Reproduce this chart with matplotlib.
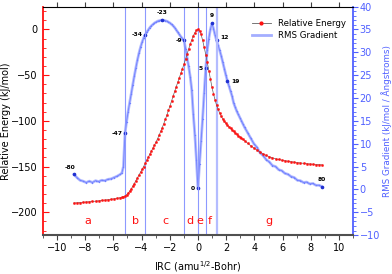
import matplotlib
matplotlib.use("Agg")
import matplotlib.pyplot as plt
from matplotlib.ticker import MultipleLocator
from matplotlib.lines import Line2D

# IRC coordinate (amu^1/2-Bohr)
irc = [-8.80, -8.58, -8.36, -8.14, -7.92, -7.70, -7.48, -7.26, -7.04, -6.82, -6.60, -6.38, -6.16, -5.94, -5.72, -5.50,
       -5.39, -5.28, -5.17, -5.06, -4.95, -4.84, -4.73, -4.62, -4.51, -4.40, -4.29, -4.18, -4.07, -3.96, -3.85, -3.74,
       -3.63, -3.52, -3.41, -3.30, -3.19, -3.08, -2.97, -2.86, -2.75, -2.64, -2.53, -2.42, -2.31, -2.20, -2.09, -1.98,
       -1.87, -1.76, -1.65, -1.54, -1.43, -1.32, -1.21, -1.10, -0.99, -0.88, -0.77, -0.66, -0.55, -0.44, -0.33, -0.22,
       -0.11, 0.00, 0.11, 0.22, 0.33, 0.44, 0.55, 0.66, 0.77, 0.88, 0.99, 1.10, 1.21, 1.32, 1.43, 1.54,
       1.65, 1.76, 1.87, 1.98, 2.09, 2.20, 2.31, 2.42, 2.53, 2.64, 2.75, 2.86, 2.97, 3.08, 3.19, 3.30,
       3.52, 3.74, 3.96, 4.18, 4.40, 4.62, 4.84, 5.06, 5.28, 5.50, 5.72, 5.94, 6.16, 6.38, 6.60, 6.82,
       7.04, 7.26, 7.48, 7.70, 7.92, 8.14, 8.36, 8.58, 8.80]

# Relative energy (kJ/mol)
energy = [-190.0, -189.7, -189.4, -189.1, -188.8, -188.5, -188.2, -187.9, -187.5, -187.1, -186.7, -186.3, -185.8, -185.3, -184.7, -184.0,
          -183.6, -183.1, -182.3, -181.0, -179.2, -177.0, -174.5, -171.6, -168.6, -165.5, -162.4, -159.3, -156.2, -153.1, -150.0, -146.6,
          -143.2, -139.8, -136.4, -133.1, -129.8, -126.5, -123.1, -119.5, -115.6, -111.6, -107.4, -103.0, -98.4, -93.6, -88.6, -83.5,
          -78.3, -73.0, -67.8, -62.7, -57.7, -52.8, -47.9, -43.0, -38.1, -32.5, -27.0, -21.5, -16.3, -11.4, -7.0, -3.6,
          -1.1, 0.0, -1.3, -5.5, -11.8, -19.5, -27.5, -36.0, -45.0, -54.0, -63.0, -70.5, -77.0, -83.0, -87.5, -91.5,
          -95.0, -98.0, -100.5, -102.8, -104.8, -106.6, -108.3, -110.0, -111.6, -113.2, -114.7, -116.2, -117.6, -119.0, -120.3, -121.6,
          -124.5, -127.2, -129.7, -132.0, -134.2, -136.2, -137.9, -139.3, -140.5, -141.5, -142.3, -143.0, -143.6, -144.2, -144.7, -145.2,
          -145.7, -146.1, -146.5, -146.9, -147.2, -147.5, -147.8, -148.0, -148.2]

# RMS gradient (kJ/mol / Angstroms)
rms = [3.3, 2.6, 2.0, 1.8, 1.5, 1.8, 1.5, 1.9, 1.7, 2.0, 1.9, 2.2, 2.3, 2.6, 2.9, 3.3,
       3.6, 5.0, 12.3, 14.8, 17.0, 19.0, 20.9, 22.9, 24.8, 26.6, 28.3, 29.8, 31.1, 32.2, 33.1, 33.8,
       34.4, 34.9, 35.4, 35.8, 36.1, 36.4, 36.6, 36.8, 36.9, 37.0, 37.0, 37.0, 36.9, 36.8, 36.6, 36.4,
       36.1, 35.8, 35.4, 34.9, 34.4, 33.9, 33.4, 33.0, 32.6, 30.8, 28.8, 26.9, 24.7, 21.8, 16.5, 12.0,
       6.5, 0.2, 5.5, 10.5, 15.5, 21.0, 26.5, 30.5, 33.0, 35.0, 36.3, 35.2, 33.8, 32.6, 31.5, 30.4,
       29.2, 27.8, 26.4, 25.0, 23.7, 22.6, 21.5, 20.4, 18.9, 18.0, 17.1, 16.4, 15.7, 15.0, 14.3, 13.6,
       12.4, 11.2, 10.0, 9.2, 8.0, 7.4, 6.5, 6.0, 5.2, 5.0, 4.3, 4.1, 3.5, 3.3, 2.8, 2.6,
       2.0, 1.9, 1.5, 1.6, 1.2, 1.3, 0.9, 0.9, 0.6]

# labelled IRC points (point index)
point_labels = ["-80", "-47", "-34", "-23", "-9", "0", "5", "9", "12", "19", "80"]
point_irc = [-8.80, -5.17, -3.74, -2.53, -0.99, 0.00, 0.55, 0.99, 1.32, 2.09, 8.80]
point_rms = [3.3, 12.3, 33.8, 37.0, 32.6, 0.2, 26.5, 36.3, 32.6, 23.7, 0.6]

# region boundaries and names
boundaries = [-5.17, -3.74, -0.99, 0.00, 0.55, 1.32]
region_names = ["a", "b", "c", "d", "e", "f", "g"]
region_x = [-7.8, -4.45, -2.3, -0.55, 0.15, 0.86, 5.05]

RED = "#ff1010"
BLUE = "#5060ff"
LBLUE = "#a4aeff"

fig = plt.figure(figsize=(3.92, 2.74), dpi=100)
ax = fig.add_axes([0.109, 0.142, 0.792, 0.834])
ax2 = ax.twinx()
ax.set_zorder(ax2.get_zorder() + 1)
ax.patch.set_visible(False)

# RMS gradient on right axis
ax2.plot(irc, rms, color=LBLUE, lw=2.0, alpha=0.85, solid_capstyle="round")
ax2.plot(irc, rms, color="#7080ff", lw=0.6, marker="o", ms=1.0, mfc="#7080ff", mec="none")
ax2.plot(point_irc, point_rms, ls="none", marker="o", ms=1.6, color="#2030d0")

# vertical boundaries
for i, b in enumerate(boundaries):
    if i == len(boundaries) - 1:
        ax2.axvline(b, color="#b4bcff", lw=1.6)
    else:
        ax2.axvline(b, color="#8d99ff", lw=0.8)

# point labels
offsets = {"-80": (-3, 3, "center", "bottom"), "-47": (-2, 0, "right", "center"),
           "-34": (-2, 0, "right", "center"), "-23": (0, 4, "center", "bottom"),
           "-9": (-1, 0, "right", "center"), "0": (-2, 0, "right", "center"),
           "5": (-2, 0, "right", "center"), "9": (0, 4, "center", "bottom"),
           "12": (3, 2, "left", "center"), "19": (3, 0, "left", "center"),
           "80": (0, 3, "center", "bottom")}
for lab, px, py in zip(point_labels, point_irc, point_rms):
    dx, dy, ha, va = offsets[lab]
    ax2.annotate(lab, (px, py), xytext=(dx, dy), textcoords="offset points",
                 fontsize=4.3, ha=ha, va=va, color="black", fontweight="bold")

# relative energy on left axis
ax.plot(irc, energy, color="#606060", lw=0.5, marker="o", ms=1.6, mfc=RED, mec=RED, mew=0.3)

for name, rx in zip(region_names, region_x):
    ax.text(rx, -210, name, color=RED, fontsize=8, ha="center", va="center")

ax.set_xlim(-11, 11)
ax.set_ylim(-225, 25)
ax2.set_ylim(-10, 40)

ax.xaxis.set_major_locator(MultipleLocator(2))
ax.xaxis.set_minor_locator(MultipleLocator(1))
ax.yaxis.set_major_locator(MultipleLocator(50))
ax.yaxis.set_minor_locator(MultipleLocator(10))
ax2.yaxis.set_major_locator(MultipleLocator(5))
ax2.yaxis.set_minor_locator(MultipleLocator(1))

ax.tick_params(axis="x", which="both", direction="out", colors="#404040", labelcolor="black",
               top=True, labelsize=7, pad=2)
ax.tick_params(axis="x", which="major", length=3.5, width=0.8)
ax.tick_params(axis="x", which="minor", length=2, width=0.6, top=False)
ax.tick_params(axis="y", which="both", direction="in", colors=RED, labelcolor="black", labelsize=7)
ax.tick_params(axis="y", which="major", length=4, width=0.8)
ax.tick_params(axis="y", which="minor", length=2, width=0.6)
ax2.tick_params(axis="y", which="both", direction="out", colors=BLUE, labelcolor=BLUE, labelsize=7, pad=1.2)
ax2.tick_params(axis="y", which="major", length=3.5, width=0.8)
ax2.tick_params(axis="y", which="minor", length=1.8, width=0.6)

ax.spines["left"].set_color(RED)
ax.spines["left"].set_linewidth(1.3)
ax.spines["bottom"].set_color("#505050")
ax.spines["bottom"].set_linewidth(1.5)
ax.spines["top"].set_color("black")
ax.spines["top"].set_linewidth(0.8)
ax.spines["right"].set_visible(False)
for s in ["left", "top", "bottom"]:
    ax2.spines[s].set_visible(False)
ax2.spines["right"].set_color(BLUE)
ax2.spines["right"].set_linewidth(1.3)

ax.set_xlabel("IRC (amu$^{1/2}$-Bohr)", fontsize=7, labelpad=5)
ax.set_ylabel("Relative Energy (kJ/mol)", fontsize=7, labelpad=0)
ax2.set_ylabel("RMS Gradient (kJ/mol / Ångstroms)", fontsize=6.3, color=BLUE, labelpad=0.5)

handles = [Line2D([], [], color="#606060", lw=0.6, marker="o", ms=2, mfc=RED, mec=RED),
           Line2D([], [], color=LBLUE, lw=2.0)]
ax.legend(handles, ["Relative Energy", "RMS Gradient"], loc="upper right",
          bbox_to_anchor=(0.995, 0.97), frameon=False, fontsize=6.2, handlelength=2.2,
          labelspacing=0.25, borderaxespad=0.3)

fig.savefig("out.png", dpi=100)
